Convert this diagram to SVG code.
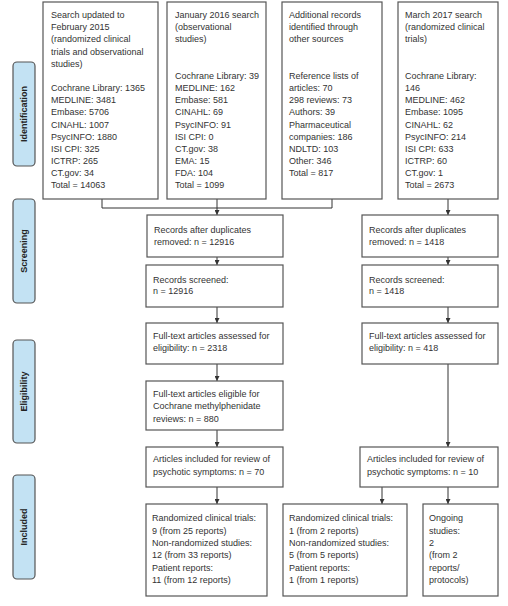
<svg xmlns="http://www.w3.org/2000/svg" width="508" height="606" viewBox="0 0 508 606">
<style>
.b{fill:#fff;stroke:#555;stroke-width:1.2}
.lab{fill:#c3e2f3;stroke:#555;stroke-width:1.2}
text{font-family:"Liberation Sans",Arial,sans-serif;font-size:9px;fill:#333}
.lt{font-weight:bold;font-size:9px;fill:#222;text-anchor:middle}
.c{fill:none;stroke:#333;stroke-width:1}
</style>
<defs>
<marker id="ah" viewBox="0 0 8 8" refX="8" refY="4" markerWidth="5" markerHeight="5" orient="auto">
<path d="M0,0 L8,4 L0,8 Z" fill="#333"/>
</marker>
</defs>
<rect width="508" height="606" fill="#fff"/>
<g id="labels">
<g id="lab-identification"><rect class="lab" x="13" y="62" width="22" height="104" rx="4"/><text class="lt" transform="translate(27,114) rotate(-90)">Identification</text></g>
<g id="lab-screening"><rect class="lab" x="13" y="199" width="22" height="104" rx="4"/><text class="lt" transform="translate(27,251) rotate(-90)">Screening</text></g>
<g id="lab-eligibility"><rect class="lab" x="13" y="340" width="22" height="103" rx="4"/><text class="lt" transform="translate(27,391.5) rotate(-90)">Eligibility</text></g>
<g id="lab-included"><rect class="lab" x="13" y="475" width="22" height="104" rx="4"/><text class="lt" transform="translate(27,527) rotate(-90)">Included</text></g>
</g>
<g id="connectors">
<path class="c" d="M102,199 V208 H332 V199"/>
<path class="c" d="M217,199 V215" marker-end="url(#ah)"/>
<path class="c" d="M448,199 V215" marker-end="url(#ah)"/>
<path class="c" d="M217,257 V265" marker-end="url(#ah)"/>
<path class="c" d="M448,257 V265" marker-end="url(#ah)"/>
<path class="c" d="M217,307 V323" marker-end="url(#ah)"/>
<path class="c" d="M448,307 V323" marker-end="url(#ah)"/>
<path class="c" d="M217,364 V381" marker-end="url(#ah)"/>
<path class="c" d="M448,364 V447" marker-end="url(#ah)"/>
<path class="c" d="M217,430 V447" marker-end="url(#ah)"/>
<path class="c" d="M217,487 V504" marker-end="url(#ah)"/>
<path class="c" d="M382,487 V504" marker-end="url(#ah)"/>
<path class="c" d="M448,487 V504" marker-end="url(#ah)"/>
</g>
<g id="n-search2015">
<rect class="b" x="43" y="2" width="115" height="197"/>
<text x="51" y="18">Search updated to</text>
<text x="51" y="30.2">February 2015</text>
<text x="51" y="42.4">(randomized clinical</text>
<text x="51" y="54.6">trials and observational</text>
<text x="51" y="66.8">studies)</text>
<text x="51" y="91.2">Cochrane Library: 1365</text>
<text x="51" y="103.3">MEDLINE: 3481</text>
<text x="51" y="115.4">Embase: 5706</text>
<text x="51" y="127.6">CINAHL: 1007</text>
<text x="51" y="139.7">PsycINFO: 1880</text>
<text x="51" y="151.9">ISI CPI: 325</text>
<text x="51" y="164">ICTRP: 265</text>
<text x="51" y="176.1">CT.gov: 34</text>
<text x="51" y="188.3">Total = 14063</text>
</g>
<g id="n-search2016">
<rect class="b" x="167" y="2" width="99" height="197"/>
<text x="175" y="18">January 2016 search</text>
<text x="175" y="30.2">(observational</text>
<text x="175" y="42.4">studies)</text>
<text x="175" y="79">Cochrane Library: 39</text>
<text x="175" y="91.2">MEDLINE: 162</text>
<text x="175" y="103.3">Embase: 581</text>
<text x="175" y="115.4">CINAHL: 69</text>
<text x="175" y="127.6">PsycINFO: 91</text>
<text x="175" y="139.7">ISI CPI: 0</text>
<text x="175" y="151.9">CT.gov: 38</text>
<text x="175" y="164">EMA: 15</text>
<text x="175" y="176.1">FDA: 104</text>
<text x="175" y="188.3">Total = 1099</text>
</g>
<g id="n-additional">
<rect class="b" x="282" y="2" width="100" height="197"/>
<text x="289" y="18">Additional records</text>
<text x="289" y="30.2">identified through</text>
<text x="289" y="42.4">other sources</text>
<text x="289" y="79">Reference lists of</text>
<text x="289" y="91.2">articles: 70</text>
<text x="289" y="103.3">298 reviews: 73</text>
<text x="289" y="115.4">Authors: 39</text>
<text x="289" y="127.6">Pharmaceutical</text>
<text x="289" y="139.7">companies: 186</text>
<text x="289" y="151.9">NDLTD: 103</text>
<text x="289" y="164">Other: 346</text>
<text x="289" y="176.1">Total = 817</text>
</g>
<g id="n-search2017">
<rect class="b" x="398" y="2" width="100" height="197"/>
<text x="405" y="18">March 2017 search</text>
<text x="405" y="30.2">(randomized clinical</text>
<text x="405" y="42.4">trials)</text>
<text x="405" y="79">Cochrane Library:</text>
<text x="405" y="91.2">146</text>
<text x="405" y="103.3">MEDLINE: 462</text>
<text x="405" y="115.4">Embase: 1095</text>
<text x="405" y="127.6">CINAHL: 62</text>
<text x="405" y="139.7">PsycINFO: 214</text>
<text x="405" y="151.9">ISI CPI: 633</text>
<text x="405" y="164">ICTRP: 60</text>
<text x="405" y="176.1">CT.gov: 1</text>
<text x="405" y="188.3">Total = 2673</text>
</g>
<g id="n-dup-left">
<rect class="b" x="147" y="215" width="136" height="42"/>
<text x="154" y="232.5">Records after duplicates</text>
<text x="154" y="244.8">removed: n = 12916</text>
</g>
<g id="n-dup-right">
<rect class="b" x="362" y="215" width="136" height="42"/>
<text x="369" y="232.5">Records after duplicates</text>
<text x="369" y="244.8">removed: n = 1418</text>
</g>
<g id="n-screened-left">
<rect class="b" x="146" y="265" width="137" height="42"/>
<text x="153" y="282.5">Records screened:</text>
<text x="153" y="294">n = 12916</text>
</g>
<g id="n-screened-right">
<rect class="b" x="362" y="265" width="136" height="42"/>
<text x="369" y="282.5">Records screened:</text>
<text x="369" y="294">n = 1418</text>
</g>
<g id="n-fulltext-left">
<rect class="b" x="146" y="323" width="137" height="41"/>
<text x="153" y="339">Full-text articles assessed for</text>
<text x="153" y="351">eligibility: n = 2318</text>
</g>
<g id="n-fulltext-right">
<rect class="b" x="362" y="323" width="136" height="41"/>
<text x="369" y="339">Full-text articles assessed for</text>
<text x="369" y="351">eligibility: n = 418</text>
</g>
<g id="n-eligible">
<rect class="b" x="146" y="381" width="137" height="49"/>
<text x="153" y="396.5">Full-text articles eligible for</text>
<text x="153" y="409">Cochrane methylphenidate</text>
<text x="153" y="421.5">reviews: n = 880</text>
</g>
<g id="n-included-left">
<rect class="b" x="146" y="447" width="137" height="40"/>
<text x="153" y="462">Articles included for review of</text>
<text x="153" y="475">psychotic symptoms: n = 70</text>
</g>
<g id="n-included-right">
<rect class="b" x="360" y="447" width="138" height="40"/>
<text x="367" y="462">Articles included for review of</text>
<text x="367" y="475">psychotic symptoms: n = 10</text>
</g>
<g id="n-result-a">
<rect class="b" x="146" y="504" width="121" height="92"/>
<text x="152" y="521">Randomized clinical trials:</text>
<text x="152" y="533.5">9 (from 25 reports)</text>
<text x="152" y="545.5">Non-randomized studies:</text>
<text x="152" y="557.5">12 (from 33 reports)</text>
<text x="152" y="570.5">Patient reports:</text>
<text x="152" y="583">11 (from 12 reports)</text>
</g>
<g id="n-result-b">
<rect class="b" x="283" y="504" width="124" height="92"/>
<text x="289" y="521">Randomized clinical trials:</text>
<text x="289" y="533.5">1 (from 2 reports)</text>
<text x="289" y="545.5">Non-randomized studies:</text>
<text x="289" y="557.5">5 (from 5 reports)</text>
<text x="289" y="570.5">Patient reports:</text>
<text x="289" y="583">1 (from 1 reports)</text>
</g>
<g id="n-result-c">
<rect class="b" x="423" y="504" width="75" height="92"/>
<text x="429" y="521">Ongoing</text>
<text x="429" y="533.5">studies:</text>
<text x="429" y="545.5">2</text>
<text x="429" y="557.5">(from 2</text>
<text x="429" y="570.5">reports/</text>
<text x="429" y="583">protocols)</text>
</g>
</svg>
